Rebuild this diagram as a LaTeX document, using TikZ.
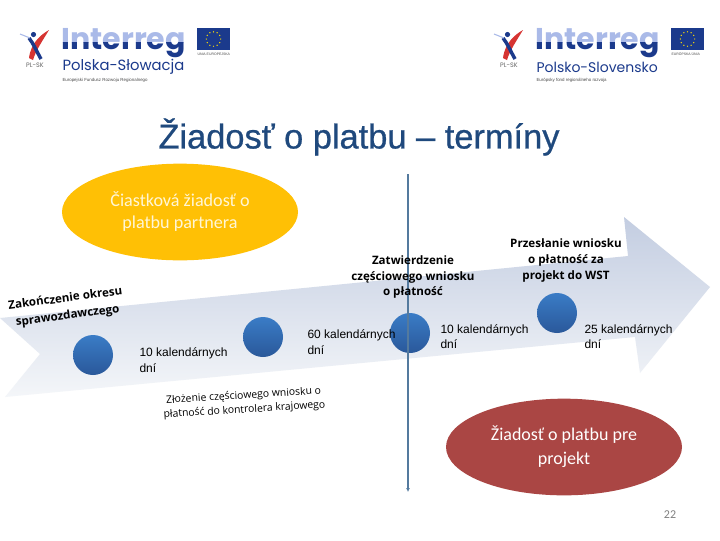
\documentclass[tikz,border=0pt]{standalone}
\usepackage{fontspec}
\setmainfont{Liberation Sans}
\newfontfamily\calfont{Carlito}
\newfontfamily\opnfont{Open Sans}
\newfontfamily\popfont{Poppins}
\newfontfamily\titlefont[RawFeature={embolden=0.7}]{Liberation Sans}
\usetikzlibrary{arrows.meta,shapes.geometric}
\definecolor{logodark}{RGB}{27,58,140}
\definecolor{logolight}{RGB}{170,186,232}
\definecolor{logored}{RGB}{214,52,50}
\definecolor{titleblue}{RGB}{31,73,125}
\definecolor{linegrey}{RGB}{84,122,158}
\definecolor{dottop}{RGB}{58,124,198}
\definecolor{dotbot}{RGB}{42,88,154}
\definecolor{arrowtop}{RGB}{195,205,225}
\definecolor{arrowmid}{RGB}{206,213,229}
\definecolor{arrowbot}{RGB}{244,246,249}
\definecolor{partnerfill}{RGB}{255,192,5}
\definecolor{partnertext}{RGB}{255,246,214}
\definecolor{projectfill}{RGB}{170,70,68}
\tikzset{every picture/.style={line width=0.75pt}}
\tikzset{
  dotstyle/.style={circle,minimum size=30pt,inner sep=0pt,top color=dottop,bottom color=dotbot},
  blob/.style={ellipse,inner sep=0pt,minimum width=177pt,minimum height=72.5pt},
  daysnote/.style={font=\fontsize{9}{11.4}\selectfont,align=left,anchor=north west,inner sep=0pt},
  stepnote/.style={font=\opnfont\bfseries\fontsize{8.7}{11.7}\selectfont,align=center,inner sep=0pt},
  bendnote/.style={font=\opnfont\fontsize{7.8}{10.6}\selectfont,align=center,inner sep=0pt}
}
\newcommand{\logomark}[6]{%
\begin{scope}[shift={(#1,0)}]
%icon
\fill [logored] (49,30) .. controls (42,34) and (31,42) .. (29,58) -- (33,60) .. controls (36,50) and (43,40) .. (49,30) -- cycle ;
\draw [logodark,line width=2.6] (29,38) .. controls (33,43) and (36,50) .. (41,59) ;
\fill [logodark] (33.5,34.5) circle (2.6) ;
\draw [logolight,line width=0.8] (20,34) -- (30,38) ;
\node (#4mark) [font=\popfont\fontsize{4.8}{5}\selectfont,text=black!60] at (35,65) {PL-SK};
%word mark
\begin{scope}
\clip (55,20) rectangle (195,42);
\node [font=\popfont\bfseries\fontsize{22.5}{24}\selectfont,text=logolight,anchor=west,inner sep=0pt] at (61,43) {Interreg};
\end{scope}
\begin{scope}
\clip (55,42) rectangle (195,60);
\node (#4word) [font=\popfont\bfseries\fontsize{22.5}{24}\selectfont,text=logodark,anchor=west,inner sep=0pt] at (61,43) {Interreg};
\end{scope}
\node (#4name) [font=\popfont\fontsize{#6}{12}\selectfont,text=logodark,anchor=west,inner sep=0pt] at (62,67) {#2};
\node (#4fund) [font=\fontsize{3.3}{4}\selectfont,text=black!70,anchor=west,inner sep=0pt] at (62,80.5) {#3};
%flag
\fill [logodark] (197,28) rectangle (230,50) ;
\foreach \a in {0,30,...,330} \fill [yellow!80!orange] (213.5,39) ++(\a:7.2) circle (0.7) ;
\node (#4union) [font=\fontsize{2.6}{3}\selectfont,text=black!70,anchor=west,inner sep=0pt] at (197,54) {#5};
\end{scope}}

\begin{document}
\begin{tikzpicture}[x=0.75pt,y=0.75pt,yscale=-1,xscale=1]
\useasboundingbox (0,0) rectangle (720,540);
\fill [white] (0,0) rectangle (720,540);

%Logos
\logomark{0}{Polska-Słowacja}{Europejski Fundusz Rozwoju Regionalnego}{pl}{UNIA EUROPEJSKA}{11.1}
\logomark{474}{Polsko-Slovensko}{Európsky fond regionálneho rozvoja}{sk}{EURÓPSKA ÚNIA}{10.5}

%Title
\node (title) [font=\titlefont\fontsize{25.8}{28}\selectfont,text=titleblue] at (359,137) {Žiadosť o platbu – termíny};

%Big arrow
\path [top color=arrowtop,middle color=arrowmid,bottom color=arrowbot] (0,318) -- (628,256) -- (624,217) -- (710,287) -- (640,373) -- (635,337) -- (5,397) -- (40,354) -- cycle ;

%Milestones
\node (dota) [dotstyle] at (93,355) {};
\node (dotb) [dotstyle] at (263,337) {};
\node (dotc) [dotstyle] at (410,333) {};
\node (dotd) [dotstyle] at (557,313) {};

%Time line
\coordinate (linetop) at (408,174);
\coordinate (linebot) at (408,492);
\draw [linegrey,line width=1.5,-{Latex[length=3pt,width=3pt]}] (linetop) -- (linebot) ;

%Ellipses
\node (partner) [blob,fill=partnerfill,text=partnertext,font=\calfont\fontsize{13.6}{16.5}\selectfont,align=center] at (180,212) {Čiastková žiadosť o\\platbu partnera};
\node (project) [blob,fill=projectfill,text=white,font=\calfont\fontsize{13.5}{18}\selectfont,align=center] at (564,447) {Žiadosť o platbu pre\\projekt};

% Text Node
\node (endperiod) [stepnote,font=\opnfont\bfseries\fontsize{8.7}{13}\selectfont,rotate=7.5] at (66.5,307.5) {Zakończenie okresu\\sprawozdawczego};
\node (submit) [bendnote,rotate=3.5] at (244,403) {Złożenie częściowego wniosku o\\płatność do kontrolera krajowego};
\node (approve) [stepnote] at (413,277) {Zatwierdzenie\\częściowego wniosku\\o płatność};
\node (send) [stepnote] at (566,260.5) {Przesłanie wniosku\\o płatność  za\\projekt do WST};
\node (daysa) [daysnote] at (139,347.5) {10 kalendárnych\\dní};
\node (daysb) [daysnote] at (307,329.5) {60 kalendárnych\\dní};
\node (daysc) [daysnote] at (440,324) {10 kalendárnych\\dní};
\node (daysd) [daysnote] at (584,324) {25 kalendárnych\\dní};
\node (pageno) [font=\calfont\fontsize{9}{11}\selectfont,text=black!50] at (670,515) {22};

\end{tikzpicture}
\end{document}
